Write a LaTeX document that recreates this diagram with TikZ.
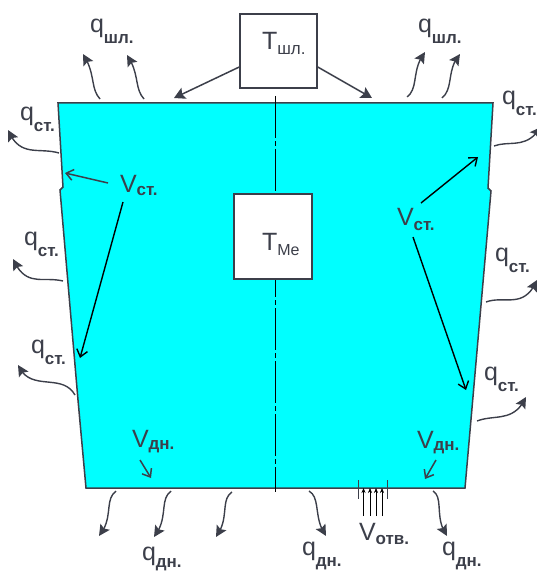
\documentclass[tikz,border=0pt]{standalone}
\usepackage{fontspec}
\setmainfont{Liberation Sans}
\usetikzlibrary{arrows.meta,bending}
\definecolor{ink}{HTML}{3C3F4A}
\definecolor{melt}{HTML}{00FFFF}
\newcommand{\lab}[3]{{\fontsize{25}{25}\selectfont #1}\raisebox{-#3pt}{\fontsize{17}{17}\selectfont\bfseries #2}}
\newcommand{\qlab}[2]{\lab{q}{#1}{#2}}
\tikzset{
  x=1pt,y=-1pt,
  txt/.style={anchor=base west,inner sep=0pt,outer sep=0pt,text=ink},
  box/.style={draw=ink,line width=1.5pt,fill=white,inner sep=0pt},
  heatflow/.style={draw=ink,line width=1.4pt,-{Stealth[length=11pt,width=11pt,inset=2pt,flex]}},
  pointer/.style={draw=ink,line width=1.5pt,-{Stealth[length=11pt,width=12pt,inset=2pt]}},
  veldark/.style={draw=ink,line width=1.5pt,-{Straight Barb[length=7pt,width=11pt]}},
  velblack/.style={draw=black,line width=1.4pt,-{Straight Barb[length=7pt,width=11pt]}},
  inflow/.style={draw=black,line width=.6pt,-{Stealth[length=5pt,width=4pt]}},
}
\begin{document}
\begin{tikzpicture}
\useasboundingbox (0,0) rectangle (536,572);
% body
\path[fill=melt,draw=ink,line width=1.5pt,line join=miter]
  (58,103) -- (493,103) -- (488,188) -- (491,191) -- (465,488) -- (86,488) -- (78,400)
  -- (60,190) -- (63,187) -- cycle;
% boxes
\node[box,minimum width=77pt,minimum height=74pt] (tshl) at (278.5,51) {};
\coordinate (axtop) at (275.5,96);
\coordinate (axbot) at (275.5,492);
\draw[black,line width=.7pt,dash pattern=on 42pt off 3pt on 5pt off 3pt] (axtop) -- (axbot);
\node[box,minimum width=78pt,minimum height=85pt] (tme) at (273,236.5) {};
\node[txt] (ltshl) at (262,50) {\lab{T}{\mdseries шл.}{5}};
\node[txt] (ltme) at (262,250) {\lab{T}{\mdseries\fontsize{16}{16}\selectfont Me}{5}};
% slag pointers
\coordinate (pl) at (174,98);
\coordinate (pr) at (372,98);
\draw[pointer] (tshl.west |- 0,67) -- (pl);
\draw[pointer] (tshl.east |- 0,67) -- (pr);
% heat flows, top
\coordinate (a1) at (100,99); \coordinate (b1) at (83,54);
\coordinate (a2) at (144,99); \coordinate (b2) at (127,55);
\coordinate (a3) at (407,97); \coordinate (b3) at (425,52);
\coordinate (a4) at (442,98); \coordinate (b4) at (460,54);
\draw[heatflow] (a1) .. controls (90,88) and (96,74) .. (b1);
\draw[heatflow] (a2) .. controls (134,88) and (140,74) .. (b2);
\draw[heatflow] (a3) .. controls (419,88) and (411,70) .. (b3);
\draw[heatflow] (a4) .. controls (454,88) and (446,70) .. (b4);
% heat flows, left
\coordinate (a5) at (59,153); \coordinate (b5) at (8,130);
\coordinate (a6) at (63,281); \coordinate (b6) at (13,259);
\coordinate (a7) at (75,395); \coordinate (b7) at (18,365);
\draw[heatflow] (a5) .. controls (38,147) and (20,158) .. (b5);
\draw[heatflow] (a6) .. controls (42,276) and (26,288) .. (b6);
\draw[heatflow] (a7) .. controls (62,372) and (30,393) .. (b7);
% heat flows, right
\coordinate (a8) at (494,146); \coordinate (b8) at (541,127);
\coordinate (a9) at (486,302); \coordinate (b9) at (537,280);
\coordinate (a10) at (477,421); \coordinate (b10) at (526,397);
\draw[heatflow] (a8) .. controls (510,140) and (526,150) .. (b8);
\draw[heatflow] (a9) .. controls (505,295) and (524,310) .. (b9);
\draw[heatflow] (a10) .. controls (495,414) and (514,423) .. (b10);
% heat flows, bottom
\coordinate (a11) at (116,491); \coordinate (b11) at (99,536);
\coordinate (a12) at (171,491); \coordinate (b12) at (154,537);
\coordinate (a13) at (232,492); \coordinate (b13) at (216,537);
\coordinate (a14) at (309,491); \coordinate (b14) at (326,536);
\coordinate (a15) at (433,491); \coordinate (b15) at (447,536);
\draw[heatflow] (a11) .. controls (104,500) and (114,518) .. (b11);
\draw[heatflow] (a12) .. controls (159,500) and (169,518) .. (b12);
\draw[heatflow] (a13) .. controls (220,500) and (230,518) .. (b13);
\draw[heatflow] (a14) .. controls (321,498) and (313,518) .. (b14);
\draw[heatflow] (a15) .. controls (444,498) and (434,518) .. (b15);
% velocities
\coordinate (v1s) at (108,183); \coordinate (v1e) at (65,173);
\coordinate (v2s) at (123,202); \coordinate (v2e) at (80,358);
\coordinate (v3s) at (421,203); \coordinate (v3e) at (478,157);
\coordinate (v4s) at (413,237); \coordinate (v4e) at (466,390);
\coordinate (v5s) at (140,460); \coordinate (v5e) at (151,478);
\coordinate (v6s) at (436,460); \coordinate (v6e) at (425,479);
\draw[veldark] (v1s) -- (v1e);
\draw[velblack] (v2s) -- (v2e);
\draw[velblack] (v3s) -- (v3e);
\draw[velblack] (v4s) -- (v4e);
\draw[veldark] (v5s) -- (v5e);
\draw[veldark] (v6s) -- (v6e);
% inflow through the nozzle
\coordinate (n1) at (358.5,480); \coordinate (n2) at (358.5,499);
\coordinate (n3) at (387,480); \coordinate (n4) at (387,499);
\draw[ink,line width=.8pt] (n1) -- (n2);
\draw[ink,line width=.8pt] (n3) -- (n4);
\foreach \i/\xx in {1/363.5,2/370,3/376,4/382}{
  \coordinate (f\i) at (\xx,516);
  \coordinate (g\i) at (\xx,488);
  \draw[inflow] (f\i) -- (g\i);
}
% labels
\node[txt] (q1) at (90,33) {\qlab{шл.}{11}};
\node[txt] (q2) at (418,33) {\qlab{шл.}{11}};
\node[txt] (q3) at (20,121) {\qlab{ст.}{11}};
\node[txt] (q4) at (502,105) {\qlab{ст.}{11}};
\node[txt] (q5) at (24,245) {\qlab{ст.}{11}};
\node[txt] (q6) at (495,261) {\qlab{ст.}{11}};
\node[txt] (q7) at (31,353) {\qlab{ст.}{11}};
\node[txt] (q8) at (484,380) {\qlab{ст.}{11}};
\node[txt] (q9) at (142,560) {\qlab{дн.}{7}};
\node[txt] (q10) at (302,555) {\qlab{дн.}{11}};
\node[txt] (q11) at (442,555) {\qlab{дн.}{11}};
\node[txt] (v1) at (120,192) {\lab{V}{ст.}{3}};
\node[txt] (v2) at (397,225) {\lab{V}{ст.}{5}};
\node[txt] (v3) at (132,447) {\lab{V}{дн.}{2}};
\node[txt] (v4) at (417,448) {\lab{V}{дн.}{2}};
\node[txt] (v5) at (359,540) {\lab{V}{отв.}{4}};
\end{tikzpicture}
\end{document}
